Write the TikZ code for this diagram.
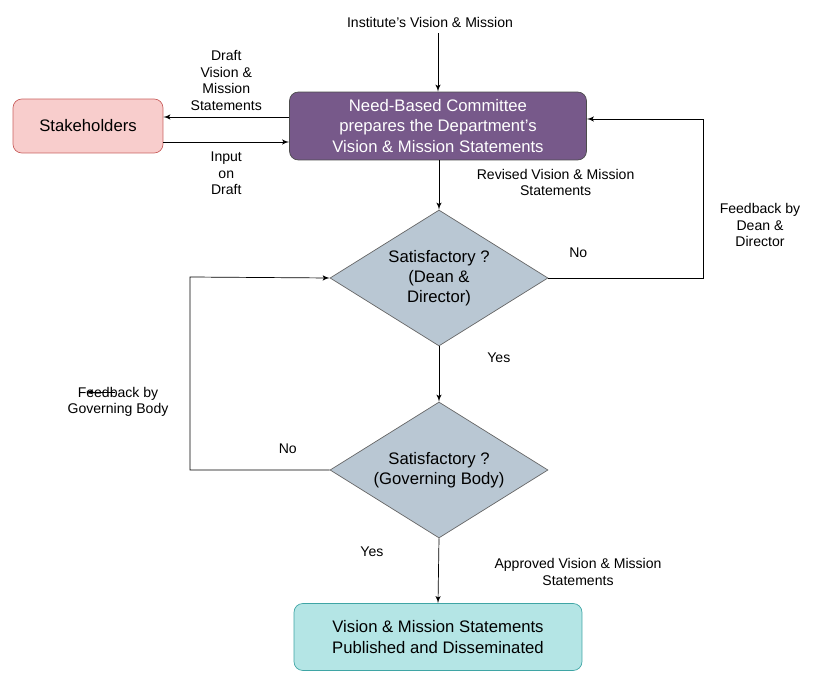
\documentclass[tikz,border=0pt]{standalone}
\usepackage{fontspec}
\setmainfont{Liberation Sans}
\usetikzlibrary{shapes,arrows,positioning,calc}
\definecolor{cmtfill}{HTML}{77598A}
\definecolor{stkfill}{HTML}{F8CDCC}
\definecolor{stkdraw}{HTML}{C9605E}
\definecolor{decfill}{HTML}{B9C7D3}
\definecolor{pubfill}{HTML}{B4E5E5}
\definecolor{pubdraw}{HTML}{3FA5A5}

\begin{document}
\begin{tikzpicture}[
    x=0.02cm,
    y=-0.02cm,
    block/.style={
        rectangle,
        draw,
        rounded corners=5pt,
        align=center,
        font=\fontsize{9.5}{11.5}\selectfont
    },
    decision/.style={
        diamond,
        draw=black!60,
        fill=decfill,
        aspect=1.6,
        inner sep=0pt,
        minimum width=4.36cm,
        minimum height=2.72cm,
        align=center,
        font=\fontsize{9.5}{11.5}\selectfont
    },
    lbl/.style={
        align=center,
        font=\fontsize{8}{9.5}\selectfont
    },
    line/.style={
        draw,
        -latex',
        thin
    }
]
\useasboundingbox (0,0) rectangle (840,682);

% Nodes
\node [lbl] (top) at (430,22) {Institute's Vision \& Mission};
\node [block, fill=cmtfill, draw=black!70, text=white, minimum width=5.94cm, minimum height=1.36cm] (committee) at (438,126)
    {Need-Based Committee\\prepares the Department's\\Vision \& Mission Statements};
\node [block, fill=stkfill, draw=stkdraw, minimum width=3cm, minimum height=1.08cm] (stake) at (88,126) {Stakeholders};
\node [decision] (dec1) at (439,278) {Satisfactory ?\\(Dean \&\\Director)};
\node [decision] (dec2) at (439,470) {Satisfactory ?\\(Governing Body)};
\node [block, fill=pubfill, draw=pubdraw, minimum width=5.76cm, minimum height=1.34cm] (publish) at (438,637)
    {Vision \& Mission Statements\\Published and Disseminated};
\coordinate (fbA) at (115,392);
\coordinate (fbB) at (86,392);

% Edges
\path [line] (top.south -| committee.north) -- (committee.north);
\path [line] ($(committee.west)+(0,-9)$) -- node [lbl, above] {Draft\\Vision \&\\Mission\\Statements} ($(stake.east)+(0,-9)$);
\path [line] ($(stake.east)+(0,16)$) -- node [lbl, below=2pt] {Input\\on\\Draft} ($(committee.west)+(0,16)$);
\path [line] (committee.south -| dec1.north) -- node [lbl, right=18pt, pos=0.45] {Revised Vision \& Mission\\Statements} (dec1.north);
\path [line] (dec1.east) -- node [lbl, above right=8pt and 4pt, pos=0.05] {No} (703,278) -- (703,119) -- ($(committee.east)+(0,-7)$);
\node [lbl] at (760,225) {Feedback by\\Dean \&\\Director};
\path [line] (dec1.south) -- node [lbl, right=24pt, pos=0.2] {Yes} (dec2.north);
\path [line] (dec2.west) -- node [lbl, above=6pt, pos=0.3] {No} (190,470) -- (190,277) -- (dec1.west);
\node [lbl] at (118,402) {Feedback by\\Governing Body};
\path [line] (fbA) -- (fbB);
\path [line] (dec2.south) -- node [lbl, left=28pt, pos=0.2] {Yes} (publish.north);
\node [lbl] at (578,572) {Approved Vision \& Mission\\Statements};

\end{tikzpicture}
\end{document}
